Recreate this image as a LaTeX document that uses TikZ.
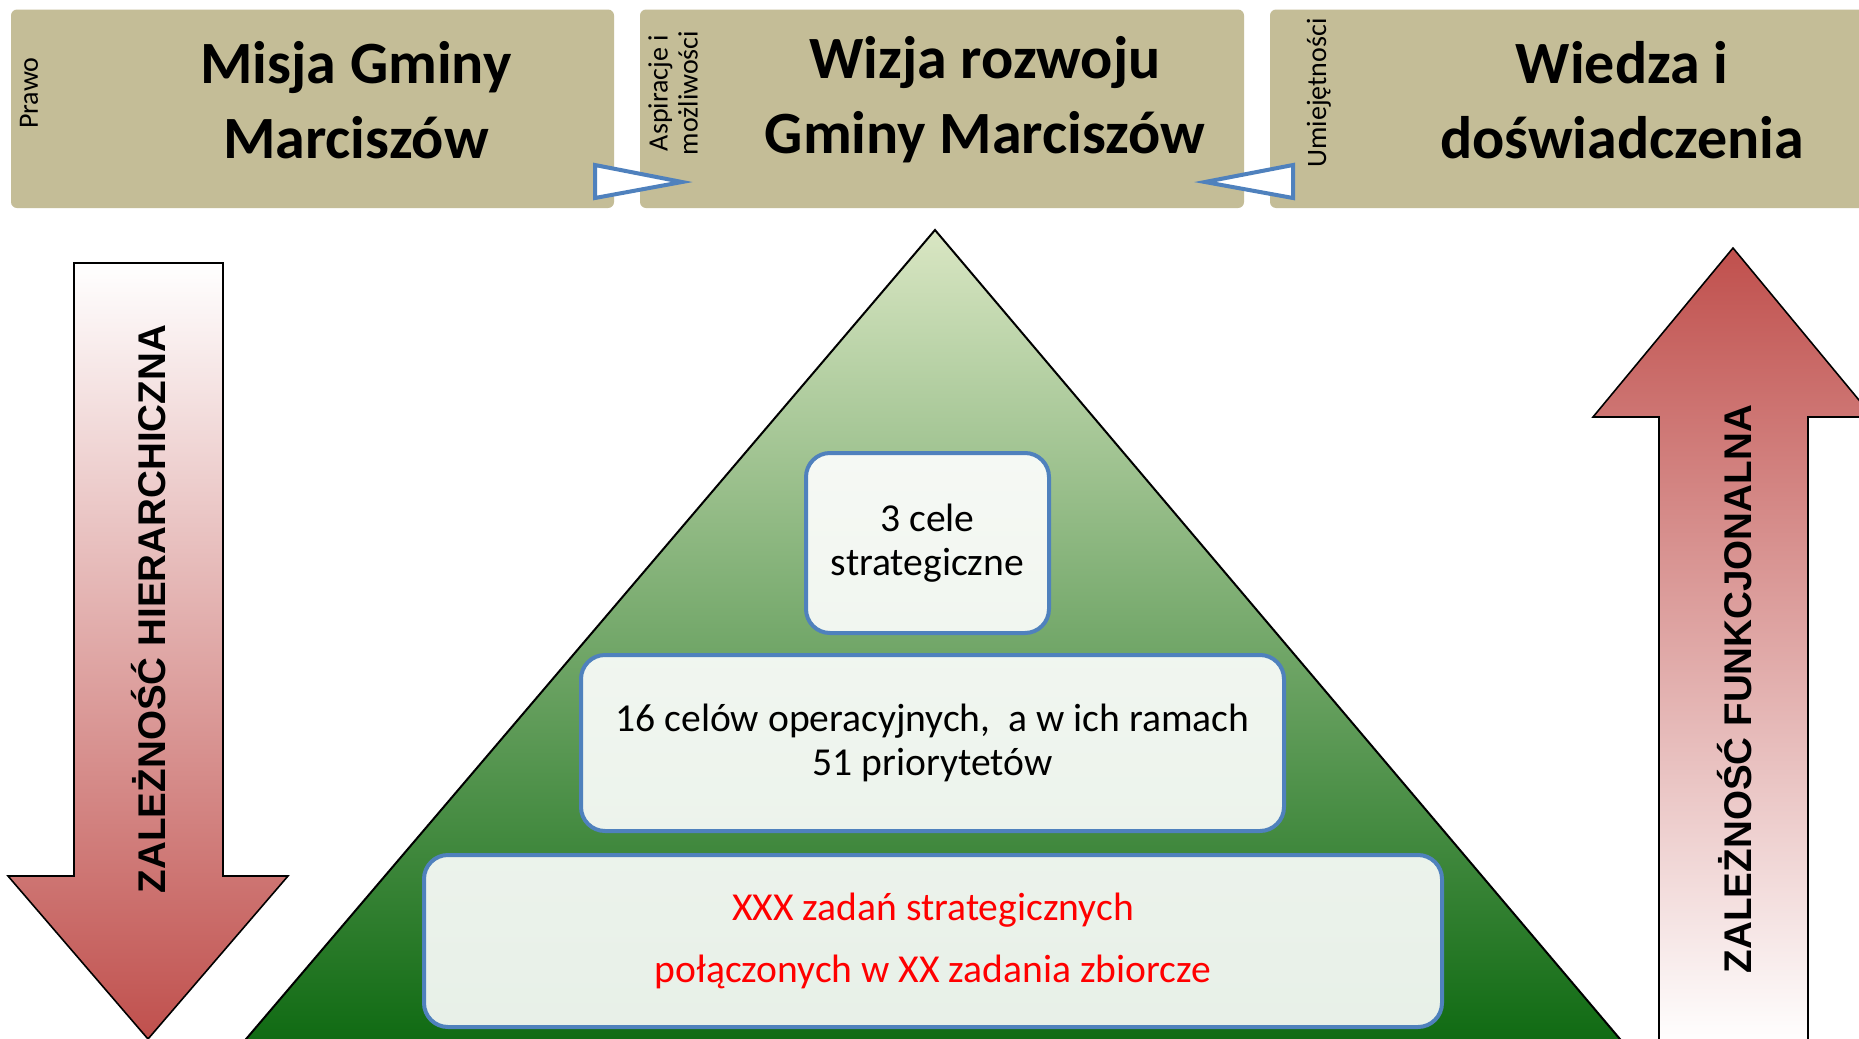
\documentclass[tikz,border=0pt]{standalone}
\usepackage{fontspec}
\setmainfont{Carlito}
\newfontfamily\arrowfont{Liberation Sans}
\definecolor{tanbox}{HTML}{C4BD97}
\definecolor{bblue}{HTML}{4F81BD}
\definecolor{bred}{HTML}{C0504D}
\definecolor{plight}{HTML}{D9E6C3}
\definecolor{pmid}{HTML}{9BBB59}
\definecolor{pdark}{HTML}{0F6A12}
\begin{document}
\begin{tikzpicture}[x=0.5pt,y=-0.5pt,
  topbox/.style={fill=tanbox, rounded corners=3pt, inner sep=0pt},
  titletext/.style={font=\bfseries\fontsize{30}{37.5}\selectfont, align=center, inner sep=0pt},
  sidelbl/.style={font=\fontsize{14}{15}\selectfont, rotate=90, inner sep=0pt},
  chev/.style={draw=bblue, line width=2pt, fill=white, line join=miter},
  lvlbox/.style={draw=bblue, line width=2pt, fill=white, fill opacity=0.9, text opacity=1, rounded corners=12pt, align=center, inner sep=0pt},
  bigarrow/.style={draw=black, line width=0.8pt, line join=miter},
  arrowtxt/.style={font=\arrowfont\bfseries\fontsize{19.3}{23}\selectfont, rotate=90, inner sep=0pt}
]
\useasboundingbox (0,0) rectangle (1859,1039);
\clip (0,0) rectangle (1859,1039);
\fill[white] (0,0) rectangle (1859,1039);

% top boxes
\node[topbox, minimum width=301.5pt, minimum height=99.25pt] (b1) at (312.5,108.75) {};
\node[topbox, minimum width=302pt, minimum height=99.25pt] (b2) at (942,108.75) {};
\node[topbox, minimum width=302.5pt, minimum height=99.25pt] (b3) at (1572.5,108.75) {};

\node[titletext] (t1) at (356,100) {Misja Gminy\\Marciszów};
\node[titletext] (t2) at (985,100) {Wizja rozwoju\\Gminy Marciszów};
\node[titletext] (t3) at (1622,100) {Wiedza i\\doświadczenia};

\node[sidelbl, anchor=base] (l1) at (38,93) {Prawo};
\node[sidelbl, align=center] (l2) at (673,93) {Aspiracje i\\możliwości};
\node[sidelbl, anchor=base] (l3) at (1326,93) {Umiejętności};

% chevrons
\coordinate (c1a) at (595,165);
\coordinate (c1t) at (682,182);
\coordinate (c1b) at (595,198);
\draw[chev] (c1a) -- (c1t) -- (c1b) -- cycle;
\coordinate (c2a) at (1293,165);
\coordinate (c2t) at (1205,182);
\coordinate (c2b) at (1293,198);
\draw[chev] (c2a) -- (c2t) -- (c2b) -- cycle;

% pyramid
\shade[draw=black, line width=1pt, line join=miter, top color=plight, middle color=pmid, bottom color=pdark]
  (935,230) -- (1625,1045) -- (241,1045) -- cycle;

\node[lvlbox, minimum width=121.5pt, minimum height=90pt, font=\fontsize{19.8}{21.8}\selectfont] (lA) at (927.5,543) {3 cele\\strategiczne};
\node[lvlbox, minimum width=351.5pt, minimum height=88pt, font=\fontsize{19.8}{22}\selectfont] (lB) at (932.5,743) {16 celów operacyjnych,~ a w ich ramach\\51 priorytetów};
\node[lvlbox, minimum width=509pt, minimum height=86pt, font=\fontsize{19.8}{30.9}\selectfont, text=red] (lC) at (933,941) {XXX zadań strategicznych\\połączonych w XX zadania zbiorcze};

% left arrow
\shade[bigarrow, top color=white, bottom color=bred]
  (74,263) -- (223,263) -- (223,876) -- (288,876) -- (148,1039) -- (8,876) -- (74,876) -- cycle;
\node[arrowtxt] (ah) at (149,609) {ZALEŻNOŚĆ HIERARCHICZNA};

% right arrow
\shade[bigarrow, top color=bred, bottom color=white]
  (1733,248) -- (1873,417) -- (1808,417) -- (1808,1045) -- (1659,1045) -- (1659,417) -- (1593,417) -- cycle;
\node[arrowtxt] (af) at (1735,689) {ZALEŻNOŚĆ FUNKCJONALNA};
\end{tikzpicture}
\end{document}
